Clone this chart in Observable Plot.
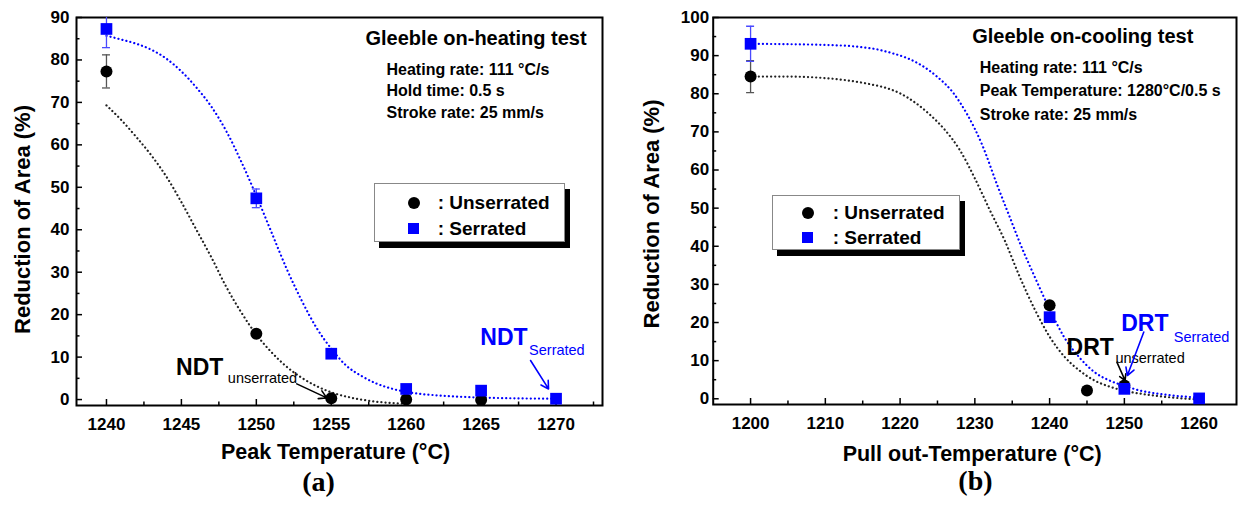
<!DOCTYPE html>
<html>
<head>
<meta charset="utf-8">
<script src="https://cdn.jsdelivr.net/npm/d3@7"></script>
<script src="https://cdn.jsdelivr.net/npm/@observablehq/plot@0.6"></script>
<style>
  body { margin: 0; background: #fff; }
  #wrap { position: relative; width: 1239px; height: 508px; overflow: hidden; background: #fff;
          font-family: "Liberation Sans", Arial, Helvetica, sans-serif; }
  .panel { position: absolute; top: 0; }
  .legend { position: absolute; box-sizing: border-box; background: #fff; border: 1px solid #888;
            box-shadow: 5px 6px 0 #000; }
  .sym { position: absolute; width: 12px; height: 12px; }
  .circ { background: #000; border-radius: 50%; }
  .sq { background: #0000ff; width: 11px; height: 11px; }
  .lt { position: absolute; font-size: 19px; font-weight: bold; line-height: 22px; white-space: nowrap; color: #000; }
</style>
</head>
<body>
<div id="wrap"></div>
<script>
// ---------------- data: (a) on-heating test ----------------
const heatXTicks = [1240, 1245, 1250, 1255, 1260, 1265, 1270];
const heatXMinor = [1242.5, 1247.5, 1252.5, 1257.5, 1262.5, 1267.5, 1272.5];
const heatYTicks = [0, 10, 20, 30, 40, 50, 60, 70, 80, 90];
const heatYMinor = [5, 15, 25, 35, 45, 55, 65, 75, 85];

const heatUnsT   = [1240, 1250, 1255, 1260, 1265];
const heatUnsRA  = [77.3, 15.5, 0.3, 0.0, -0.1];
const heatUnsErr = [3.9, 0, 0, 0, 0];

const heatSerT   = [1240, 1250, 1255, 1260, 1265, 1270];
const heatSerRA  = [87.3, 47.4, 10.8, 2.5, 2.1, 0.2];
const heatSerErr = [4.4, 2.2, 0, 0, 0, 0];

const heatUnsFitT  = [1240, 1241, 1242, 1243, 1244, 1245, 1246, 1247, 1248, 1249, 1250, 1251, 1252, 1253, 1254, 1255, 1256, 1257, 1258, 1259, 1260];
const heatUnsFitRA = [69.3, 65.8, 61.8, 57.5, 52.5, 46.5, 40.0, 33.5, 26.5, 20.5, 15.3, 11.2, 7.8, 5.2, 3.2, 1.7, 0.7, 0.0, -0.5, -0.8, -1.0];

const heatSerFitT  = [1240, 1241, 1242, 1243, 1244, 1245, 1246, 1247, 1248, 1249, 1250, 1251, 1252, 1253, 1254, 1255, 1256, 1257, 1258, 1259, 1260, 1262, 1264, 1267, 1270];
const heatSerFitRA = [85.7, 84.8, 83.8, 82.4, 80.3, 77.3, 73.5, 69.0, 63.2, 56.0, 48.0, 39.5, 31.0, 23.5, 17.0, 12.0, 8.0, 5.6, 3.8, 2.6, 1.8, 1.0, 0.6, 0.3, 0.2];

// ---------------- data: (b) on-cooling test ----------------
const coolXTicks = [1200, 1210, 1220, 1230, 1240, 1250, 1260];
const coolXMinor = [1205, 1215, 1225, 1235, 1245, 1255];
const coolYTicks = [0, 10, 20, 30, 40, 50, 60, 70, 80, 90, 100];
const coolYMinor = [5, 15, 25, 35, 45, 55, 65, 75, 85, 95];

const coolUnsT   = [1200, 1240, 1245, 1250];
const coolUnsRA  = [84.5, 24.5, 2.2, 3.5];
const coolUnsErr = [4.2, 0, 0, 0];

const coolSerT   = [1200, 1240, 1250, 1260];
const coolSerRA  = [93.1, 21.4, 2.6, 0.1];
const coolSerErr = [4.6, 0, 0, 0];

const coolUnsFitT  = [1200, 1205, 1210, 1213, 1216, 1218, 1220, 1222, 1224, 1226, 1228, 1230, 1232, 1234, 1236, 1238, 1240, 1242, 1244, 1246, 1248, 1250, 1253, 1256, 1260];
const coolUnsFitRA = [84.5, 84.5, 84.1, 83.5, 82.5, 81.6, 80.1, 77.7, 74.5, 70.5, 65.2, 57.8, 49.5, 41.5, 32.0, 23.5, 16.3, 11.0, 7.4, 4.8, 3.2, 2.1, 1.1, 0.4, -0.2];

const coolSerFitT  = [1200, 1205, 1210, 1214, 1217, 1219, 1221, 1223, 1225, 1227, 1229, 1231, 1233, 1235, 1236, 1238, 1240, 1242, 1244, 1246, 1248, 1250, 1252, 1255, 1260];
const coolSerFitRA = [93.1, 93.0, 92.8, 92.4, 91.6, 90.6, 89.3, 87.3, 84.4, 80.5, 74.5, 66.5, 56.0, 46.0, 41.0, 32.0, 23.5, 16.0, 10.8, 7.0, 4.8, 3.4, 2.2, 1.2, 0.3];

// ---------------- text ----------------
const seriesLabels = [": Unserrated", ": Serrated"];
const yLabel = "Reduction of Area (%)";
const heatXLabel = "Peak Temperature (°C)";
const coolXLabel = "Pull out-Temperature (°C)";
const heatTitle = "Gleeble on-heating test";
const heatInfo = ["Heating rate: 111 °C/s", "Hold time: 0.5 s", "Stroke rate: 25 mm/s"];
const coolTitle = "Gleeble on-cooling test";
const coolInfo = ["Heating rate: 111 °C/s", "Peak Temperature: 1280°C/0.5 s", "Stroke rate: 25 mm/s"];

// annotations (data coordinates)
const heatNotes = [
  {main: "NDT", sub: "unserrated", color: "#000", x: 1247.8, y: 7.6, sx: 1248.1, sy: 4.9, x1: 1252.7, y1: 3.7, x2: 1254.7, y2: 0.4},
  {main: "NDT", sub: "Serrated", color: "#0000ff", x: 1268.1, y: 14.5, sx: 1268.2, sy: 11.5, x1: 1268.3, y1: 9.2, x2: 1269.5, y2: 2.5}
];
const coolNotes = [
  {main: "DRT", sub: "unserrated", color: "#000", x: 1248.6, y: 13.5, sx: 1248.8, sy: 10.5, x1: 1249.0, y1: 9.6, x2: 1250.1, y2: 4.8},
  {main: "DRT", sub: "Serrated", color: "#0000ff", x: 1255.9, y: 19.7, sx: 1256.6, sy: 16.2, x1: 1252.6, y1: 17.5, x2: 1250.4, y2: 6.1}
];

const FONT = '"Liberation Sans", Arial, Helvetica, sans-serif';
const BLUE = "#0000ff";
const fmt = d3.format("d");

const rows = (T, V, E) => T.map((t, i) => ({x: t, y: V[i], e: E ? E[i] : 0}));

function panel(cfg) {
  const uns = rows(cfg.unsT, cfg.unsRA, cfg.unsErr);
  const ser = rows(cfg.serT, cfg.serRA, cfg.serErr);
  const unsFit = rows(cfg.unsFitT, cfg.unsFitRA);
  const serFit = rows(cfg.serFitT, cfg.serFitRA);
  const errU = uns.filter(d => d.e > 0);
  const errS = ser.filter(d => d.e > 0);
  const errMarks = (data, color) => [
    Plot.ruleX(data, {x: "x", y1: d => d.y - d.e, y2: d => d.y + d.e, stroke: color, strokeWidth: 1.3, clip: true}),
    Plot.ruleY(data, {y: d => d.y + d.e, x1: "x", x2: "x", insetLeft: -4, insetRight: -4, stroke: color, strokeWidth: 1.3, clip: true}),
    Plot.ruleY(data, {y: d => d.y - d.e, x1: "x", x2: "x", insetLeft: -4, insetRight: -4, stroke: color, strokeWidth: 1.3, clip: true})
  ];
  const dotted = {curve: "monotone-x", strokeWidth: 2.2, strokeDasharray: "0.1,4", strokeLinecap: "round"};
  return Plot.plot({
    width: cfg.width, height: 508,
    marginLeft: cfg.ml, marginRight: cfg.mr, marginTop: 17, marginBottom: cfg.mb,
    x: {domain: cfg.xDomain},
    y: {domain: cfg.yDomain},
    style: {fontFamily: FONT, background: "transparent", color: "#000", overflow: "visible"},
    marks: [
      Plot.axisX(cfg.xTicks, {tickSize: -6, tickPadding: 18, strokeWidth: 1.5, fontSize: 17, fontWeight: "bold", tickFormat: fmt, label: null}),
      Plot.axisX(cfg.xMinor, {tickSize: -3.5, strokeWidth: 1.5, fill: "none", tickFormat: () => "", label: null}),
      Plot.axisY(cfg.yTicks, {tickSize: -6, tickPadding: cfg.yPad, strokeWidth: 1.5, fontSize: 17, fontWeight: "bold", tickFormat: fmt, label: null}),
      Plot.axisY(cfg.yMinor, {tickSize: -3.5, strokeWidth: 1.5, fill: "none", tickFormat: () => "", label: null}),
      Plot.frame({stroke: "#000", strokeWidth: 2}),
      Plot.line(unsFit, {x: "x", y: "y", stroke: "#222", ...dotted}),
      Plot.line(serFit, {x: "x", y: "y", stroke: BLUE, ...dotted}),
      ...errMarks(errU, "#555"),
      ...errMarks(errS, "#4a4aff"),
      Plot.dot(uns, {x: "x", y: "y", r: 6, fill: "#000", stroke: "none"}),
      Plot.dot(ser, {x: "x", y: "y", r: 6.6, symbol: "square", fill: BLUE, stroke: "none"}),
      // annotations
      Plot.text(cfg.notes, {x: "x", y: "y", text: "main", fill: "color", textAnchor: "end", lineAnchor: "middle", fontSize: 23, fontWeight: "bold"}),
      Plot.text(cfg.notes, {x: "sx", y: "sy", text: "sub", fill: "color", textAnchor: "start", lineAnchor: "middle", fontSize: 14.5}),
      Plot.arrow(cfg.notes, {x1: "x1", y1: "y1", x2: "x2", y2: "y2", stroke: "color", strokeWidth: 1.6, headLength: 8}),
      // titles and info
      Plot.text([cfg.title], {text: d => d, frameAnchor: "top-left", dx: cfg.titleDx, dy: cfg.titleDy, textAnchor: "start", lineAnchor: "middle", fontSize: 20, fontWeight: "bold"}),
      Plot.text([cfg.info.join("\n")], {text: d => d, frameAnchor: "top-left", dx: cfg.infoDx, dy: cfg.infoDy, textAnchor: "start", lineAnchor: "top", lineHeight: cfg.infoLH, fontSize: 16, fontWeight: "bold"}),
      // axis labels
      Plot.text([cfg.xLabel], {text: d => d, frameAnchor: "bottom", dx: cfg.xlDx, dy: cfg.xlDy, textAnchor: "middle", lineAnchor: "middle", fontSize: 21.5, fontWeight: "bold"}),
      Plot.text([yLabel], {text: d => d, frameAnchor: "left", dx: cfg.ylDx, dy: cfg.ylDy, rotate: -90, textAnchor: "middle", lineAnchor: "middle", fontSize: 22, fontWeight: "bold"}),
      Plot.text([cfg.tag], {text: d => d, frameAnchor: "bottom", dx: cfg.tagDx, dy: 77, textAnchor: "middle", lineAnchor: "middle", fontSize: 28, fontWeight: "bold", fontFamily: '"Liberation Serif", "Times New Roman", serif'})
    ]
  });
}

const wrap = document.getElementById("wrap");

const left = panel({
  width: 620, ml: 76, mr: 18, mb: 103, yPad: 13,
  xDomain: [1238, 1273.1], yDomain: [-1.4, 90],
  xTicks: heatXTicks, xMinor: heatXMinor, yTicks: heatYTicks, yMinor: heatYMinor,
  unsT: heatUnsT, unsRA: heatUnsRA, unsErr: heatUnsErr,
  serT: heatSerT, serRA: heatSerRA, serErr: heatSerErr,
  unsFitT: heatUnsFitT, unsFitRA: heatUnsFitRA, serFitT: heatSerFitT, serFitRA: heatSerFitRA,
  notes: heatNotes,
  title: heatTitle, titleDx: 289, titleDy: 21,
  info: heatInfo, infoDx: 310, infoDy: 42.3, infoLH: 1.34,
  xLabel: heatXLabel, xlDx: -4, xlDy: 47,
  ylDx: -54, ylDy: 8,
  tag: "(a)", tagDx: -21
});
const right = panel({
  width: 619, ml: 92.7, mr: 3, mb: 104, yPad: 10,
  xDomain: [1195, 1265], yDomain: [-1.5, 100],
  xTicks: coolXTicks, xMinor: coolXMinor, yTicks: coolYTicks, yMinor: coolYMinor,
  unsT: coolUnsT, unsRA: coolUnsRA, unsErr: coolUnsErr,
  serT: coolSerT, serRA: coolSerRA, serErr: coolSerErr,
  unsFitT: coolUnsFitT, unsFitRA: coolUnsFitRA, serFitT: coolSerFitT, serFitRA: coolSerFitRA,
  notes: coolNotes,
  title: coolTitle, titleDx: 259, titleDy: 19,
  info: coolInfo, infoDx: 266.6, infoDy: 39, infoLH: 1.46,
  xLabel: coolXLabel, xlDx: -2.7, xlDy: 49.3,
  ylDx: -61, ylDy: 3,
  tag: "(b)", tagDx: 0.6
});

const pl = document.createElement("div"); pl.className = "panel"; pl.style.left = "0px"; pl.appendChild(left); wrap.appendChild(pl);
const pr = document.createElement("div"); pr.className = "panel"; pr.style.left = "620px"; pr.appendChild(right); wrap.appendChild(pr);

function legend(left, top, w, h, rowsY, symX, textX) {
  const box = document.createElement("div");
  box.className = "legend";
  Object.assign(box.style, {left: left + "px", top: top + "px", width: w + "px", height: h + "px"});
  seriesLabels.forEach((label, i) => {
    const s = document.createElement("div");
    s.className = "sym " + (i === 0 ? "circ" : "sq");
    const half = i === 0 ? 6 : 5.5;
    s.style.left = (symX - half) + "px";
    s.style.top = (rowsY[i] - half) + "px";
    box.appendChild(s);
    const t = document.createElement("div");
    t.className = "lt";
    t.textContent = label;
    t.style.left = textX + "px";
    t.style.top = (rowsY[i] - 11) + "px";
    box.appendChild(t);
  });
  wrap.appendChild(box);
}
legend(374, 183, 191, 59, [18.7, 44.7], 38.7, 62.7);
legend(771.7, 195, 188, 55, [16.7, 41.7], 35, 60);
</script>
</body>
</html>
